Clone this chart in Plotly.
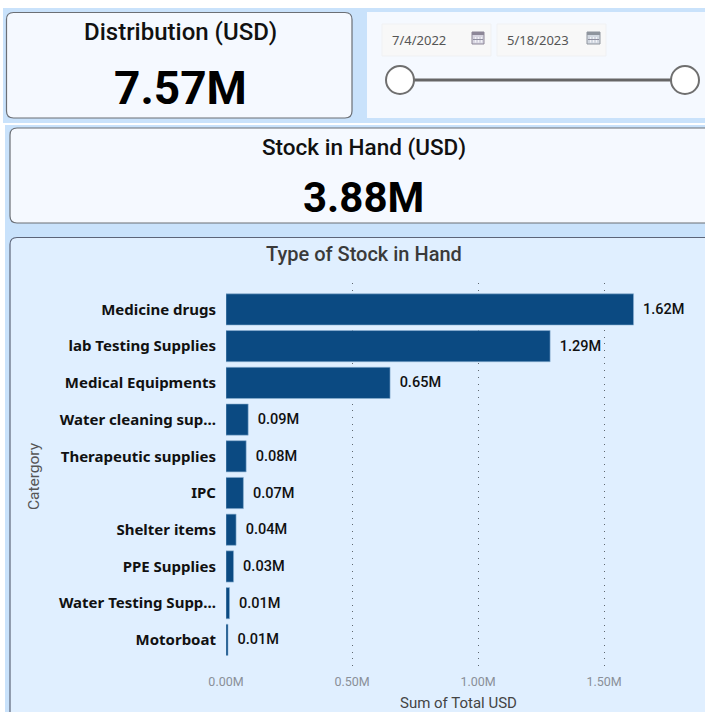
import plotly.graph_objects as go

categories = ["Medicine drugs", "lab Testing Supplies", "Medical Equipments", "Water cleaning sup...",
              "Therapeutic supplies", "IPC", "Shelter items", "PPE Supplies", "Water Testing Supp...", "Motorboat"]
values = [1617000, 1286000, 651000, 88000, 80000, 69000, 40000, 30000, 14000, 8000]
x_ticks = [0, 500000, 1000000, 1500000]
x_tick_labels = ["0.00M", "0.50M", "1.00M", "1.50M"]
kpi_distribution = "7.57M"
kpi_stock = "3.88M"
date_start = "7/4/2022"
date_end = "5/18/2023"

W, H = 705, 712
PX = lambda v: v / W
PY = lambda v: 1 - v / H
FONT = "Roboto"
BODY = "Noto Sans"


def rrect(x0, y0, x1, y1, r, fill, line=None, lw=1):
    a, b, c, d = x0, y0, x1, y1
    path = (f"M {PX(a+r)} {PY(b)} L {PX(c-r)} {PY(b)} Q {PX(c)} {PY(b)} {PX(c)} {PY(b+r)} "
            f"L {PX(c)} {PY(d-r)} Q {PX(c)} {PY(d)} {PX(c-r)} {PY(d)} L {PX(a+r)} {PY(d)} "
            f"Q {PX(a)} {PY(d)} {PX(a)} {PY(d-r)} L {PX(a)} {PY(b+r)} Q {PX(a)} {PY(b)} {PX(a+r)} {PY(b)} Z")
    return dict(type="path", xref="paper", yref="paper", path=path, fillcolor=fill,
                line=dict(color=line or fill, width=lw if line else 0), layer="below")


def rect(x0, y0, x1, y1, fill, line=None, lw=1, layer="below"):
    return dict(type="rect", xref="paper", yref="paper", x0=PX(x0), x1=PX(x1), y0=PY(y0), y1=PY(y1),
                fillcolor=fill, line=dict(color=line or fill, width=lw if line else 0), layer=layer)


def circle(cx, cy, r):
    return dict(type="circle", xref="paper", yref="paper", x0=PX(cx-r), x1=PX(cx+r), y0=PY(cy-r), y1=PY(cy+r),
                fillcolor="white", line=dict(color="#6f6f6f", width=2), layer="above")


def calendar(x0, y0, x1, y1, body, head):
    parts = [rect(x0, y0, x1, y1, body, head, 1, "above"),
             rect(x0, y0, x1, y0 + 3, head, layer="above")]
    for gx in (x0 + 3, x0 + 6, x0 + 9):
        parts.append(rect(gx, y0 + 5, gx + 1, y1 - 1.5, "#F2F2F6", layer="above"))
    parts.append(rect(x0 + 1, y0 + 7, x1 - 1, y0 + 8, "#8f8f9f", layer="above"))
    return parts


def label(x, y, text, size, color="#111111", family=FONT, anchor="center", weight=500):
    return dict(xref="paper", yref="paper", x=PX(x), y=PY(y), text=text, showarrow=False, xanchor=anchor,
                yanchor="middle", font=dict(size=size, color=color, family=family, weight=weight))


BLUE = "#C9E2FB"
CARD = "#F5F9FF"
shapes = [
    rect(3, 8, 705, 123, BLUE),
    rect(5, 125, 705, 712, BLUE),
    rrect(6.5, 12.5, 352, 118, 7, CARD, "#6b6f75", 1.2),
    rect(367, 12, 705, 118, CARD),
    rrect(10, 128, 720, 223, 7, CARD, "#6b6f75", 1.2),
    rrect(10, 237.5, 720, 730, 7, "#E0EFFF", "#5c6478", 1.2),
    rect(382, 24, 491, 56, "#F8F8F8", "#F0F1F3"),
    rect(497, 24, 606, 56, "#F8F8F8", "#F0F1F3"),
    *calendar(472, 32, 484, 44, "#D8D6E2", "#8d8798"),
    *calendar(587, 32, 600, 44, "#D3D9E2", "#8f959e"),
    rect(400, 78.5, 685, 81.5, "#666666", layer="above"),
    circle(400, 80, 14),
    circle(685, 80, 14),
]

annotations = [
    label(180.5, 32, "Distribution (USD)", 24),
    label(180, 88, kpi_distribution, 46, "#000000", weight=700),
    label(363.5, 147, "Stock in Hand (USD)", 22.5),
    label(363, 198, kpi_stock, 42, "#000000", weight=700),
    label(363.5, 254, "Type of Stock in Hand", 20, "#3a3a3a"),
    label(390, 40, date_start, 13, "#555555", BODY, "left", 400),
    label(505, 40, date_end, 13, "#555555", BODY, "left", 400),
]

fig = go.Figure(go.Bar(
    x=values, y=categories, orientation="h",
    marker=dict(color="#0B4A82", line=dict(color="#8FB3D3", width=0.6)),
    text=[f"\u00a0\u2009{v / 1e6:.2f}M" for v in values],
    textposition="outside", cliponaxis=False,
    textfont=dict(size=14.5, color="#111111", family=FONT, weight=500),
))

fig.update_layout(
    width=W, height=H, margin=dict(l=0, r=0, t=0, b=0, pad=0),
    paper_bgcolor="white", plot_bgcolor="rgba(0,0,0,0)",
    shapes=shapes, annotations=annotations, showlegend=False, bargap=0.15,
    xaxis=dict(domain=[PX(226), PX(691)], range=[0, 1845000], tickvals=x_ticks, ticktext=x_tick_labels,
               showgrid=True, gridcolor="#5f6870", griddash="1px,5.7px", gridwidth=1, zeroline=False,
               showline=False, ticks="", automargin=False, ticklabelstandoff=2,
               tickfont=dict(size=12.5, color="#8a9099", family=FONT),
               title=dict(text="Sum of Total USD", font=dict(size=15, color="#444444", family=FONT)),
               fixedrange=True),
    yaxis=dict(domain=[1 - 670 / H, 1 - 283 / H], range=[9.82, -0.72], type="category",
               categoryorder="array", categoryarray=categories, showgrid=False, zeroline=False, showline=False,
               ticks="", ticklabelstandoff=9, automargin=False,
               tickfont=dict(size=15, color="#111111", family=BODY, weight=700),
               title=dict(text="Catergory", font=dict(size=15.5, color="#555555", family=FONT)),
               fixedrange=True),
)

fig.write_html("out.html", config=dict(displayModeBar=False),
               post_script="document.body.style.margin='0';document.body.style.overflow='hidden';")
